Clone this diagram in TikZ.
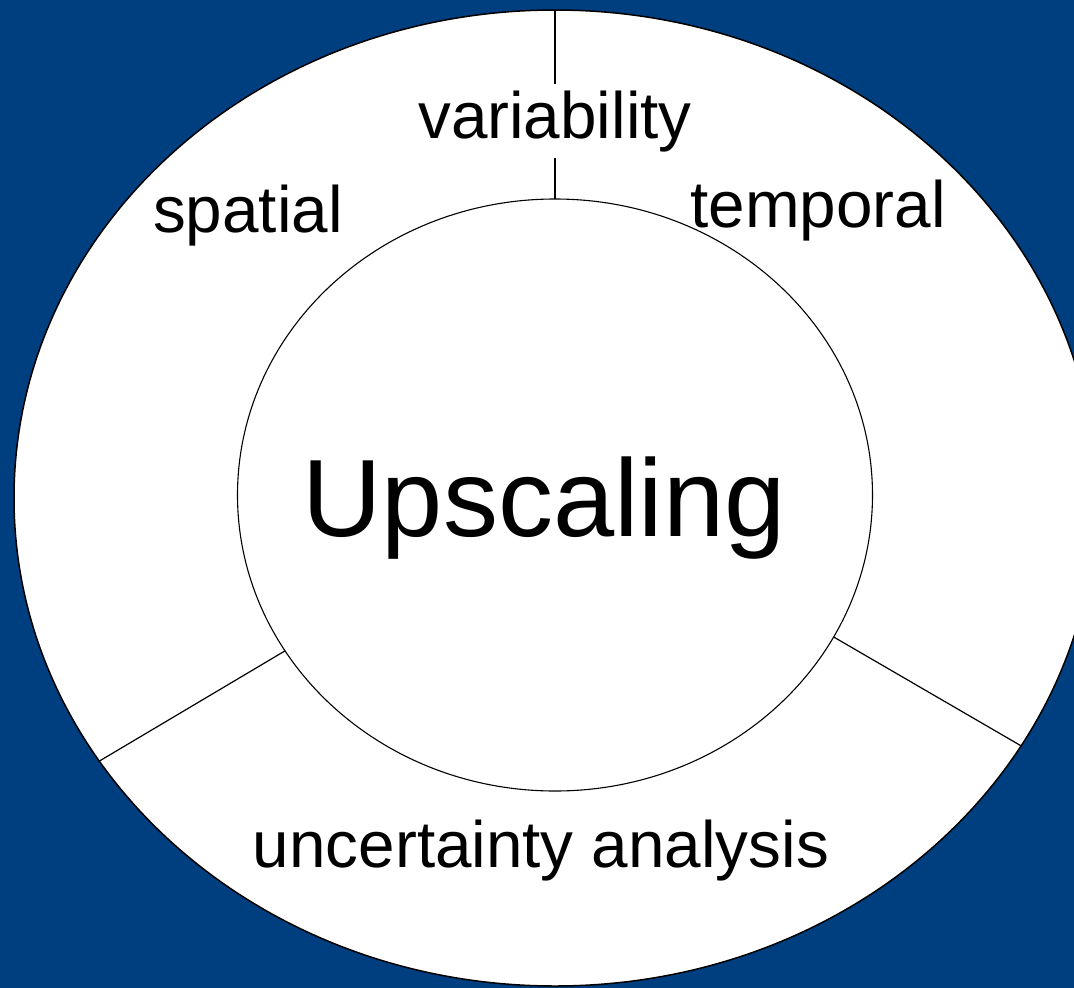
\documentclass[tikz,border=0pt]{standalone}
\usepackage{fontspec}
\setmainfont{Liberation Sans}
\usetikzlibrary{shapes.geometric}
\definecolor{slideblue}{RGB}{0,63,127}
\tikzset{
  x=1pt, y=-1pt, % pixel coordinates, origin top left
  ring/.style={ellipse, draw, fill=white, inner sep=0pt, outer sep=0pt},
  label/.style={anchor=base, inner sep=0pt, font=\fontsize{65.6}{70}\selectfont},
  divider/.style={line width=1.2pt},
}
\begin{document}
\begin{tikzpicture}
  \useasboundingbox (0,0) rectangle (1074,988);
  \fill[slideblue] (0,0) rectangle (1074,988);
  \clip (0,0) rectangle (1074,988);
  \node[ring, line width=1.5pt, minimum width=1082pt, minimum height=976pt] (outer) at (555,498) {};
  \node[ring, line width=1.1pt, minimum width=635pt, minimum height=592pt] (inner) at (555,495) {};
  \node[anchor=base, font=\fontsize{110}{120}\selectfont] (up) at (544,536) {Upscaling};
  \node[label, inner sep=6pt] (var) at (555,138) {variability};
  \node[label] (spat) at (248,232) {spatial};
  \node[label] (temp) at (818,227) {temporal};
  \node[label] (unc) at (541,867) {uncertainty analysis};
  % dividers between the fields
  \draw[divider] (outer.north) -- (var);
  \draw[divider] (var) -- (inner.north);
  \draw[divider] (inner.210) -- (outer.210.3);
  \draw[divider] (inner.333.5) -- (outer.332);
\end{tikzpicture}
\end{document}
